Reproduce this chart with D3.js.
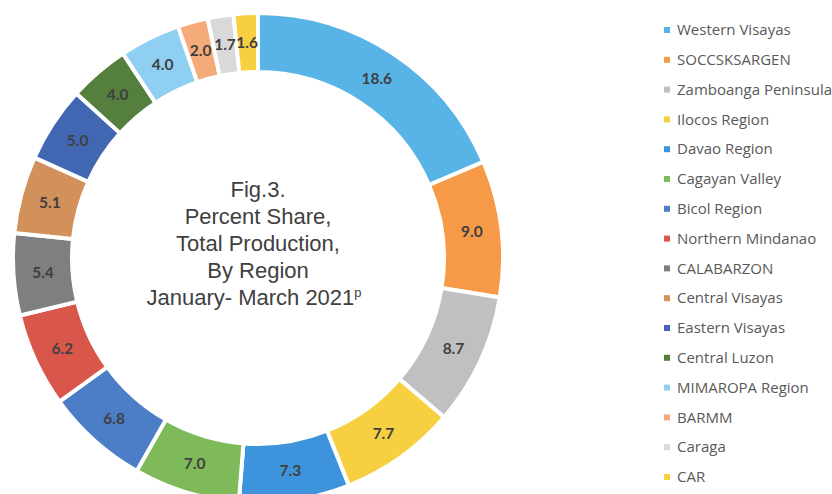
<!DOCTYPE html>
<html><head><meta charset="utf-8">
<script src="https://cdn.jsdelivr.net/npm/d3@7"></script>
<style>body{margin:0;background:#fff;}svg{display:block;}</style>
</head><body>
<svg id="chart" width="832" height="494"></svg>
<script>
const regions = ["Western Visayas","SOCCSKSARGEN","Zamboanga Peninsula","Ilocos Region","Davao Region","Cagayan Valley","Bicol Region","Northern Mindanao","CALABARZON","Central Visayas","Eastern Visayas","Central Luzon","MIMAROPA Region","BARMM","Caraga","CAR"];
const shares = [18.6,9.0,8.7,7.7,7.3,7.0,6.8,6.2,5.4,5.1,5.0,4.0,4.0,2.0,1.7,1.6];
const colors = ["#58B3E6","#F79A48","#C0C0C0","#F7D042","#3D94DD","#7FBA5A","#4B7EC6","#D9574A","#7F7F7F","#D2905A","#4166B2","#557F3C","#8FCFF1","#F5AA7A","#D9D9D9","#F7D042"];
const titleLines = ["Fig.3.","Percent Share,","Total Production,","By Region","January- March 2021"];

const svg = d3.select("#chart");
const cx = 258, cy = 258, rOuter = 245, rInner = 186;
const g = svg.append("g").attr("transform",`translate(${cx},${cy})`);
const data = regions.map((r,i)=>({region:r, value:shares[i], color:colors[i]}));
const pie = d3.pie().value(d=>d.value).sort(null);
const arc = d3.arc().innerRadius(rInner).outerRadius(rOuter);
const arcs = pie(data);
g.selectAll("path").data(arcs).join("path")
  .attr("d",arc).attr("fill",d=>d.data.color)
  .attr("stroke","#fff").attr("stroke-width",4).attr("stroke-linejoin","miter");
g.selectAll("text.val").data(arcs).join("text").attr("class","val")
  .attr("transform",d=>`translate(${arc.centroid(d)})`)
  .attr("text-anchor","middle").attr("dy","0.35em")
  .attr("font-family","Lato, 'Open Sans', sans-serif").attr("font-weight","bold")
  .attr("font-size",15.5).attr("fill","#404040")
  .text(d=>d3.format(".1f")(d.data.value));

// center title
const t = svg.append("g").attr("font-family","'Liberation Sans', Arial, sans-serif").attr("font-size",22).attr("fill","#404040").attr("text-anchor","middle");
const baselines = [197,224,251,278,305];
titleLines.forEach((s,i)=>{
  const tx = t.append("text").attr("x",cx+ (i===4? -4:0)).attr("y",baselines[i]).text(s);
  if(i===4) tx.append("tspan").attr("font-size",13).attr("dy",-8).text("p");
});

// legend
const leg = svg.append("g").attr("font-family","'Open Sans', sans-serif").attr("font-size",15).attr("fill","#595959");
const ly = d3.scalePoint().domain(regions).range([30,477]);
regions.forEach((r,i)=>{
  leg.append("rect").attr("x",664).attr("y",ly(r)-3).attr("width",6).attr("height",6).attr("fill",colors[i]);
  leg.append("text").attr("x",677).attr("y",ly(r)).attr("dy","0.35em").text(r);
});
</script>
</body></html>
